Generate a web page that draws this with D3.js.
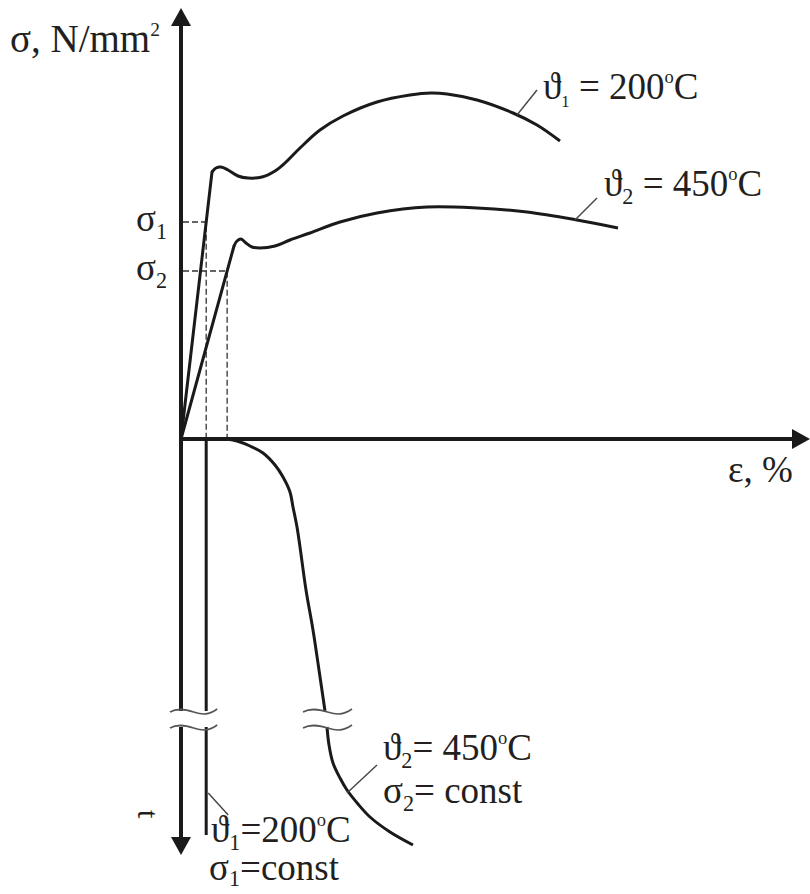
<!DOCTYPE html>
<html>
<head>
<meta charset="utf-8">
<script src="https://cdn.jsdelivr.net/npm/d3@7/dist/d3.min.js"></script>
<style>
  body { margin: 0; background: #fff; }
</style>
</head>
<body>
<svg id="chart" width="810" height="894"></svg>
<script>
// schematic tensile curves (strain in %, stress in N/mm2) + creep at constant stress

// tensile test at 200 C : first point pair is the elastic line
const eps200 = [0, 1.24, 1.40, 1.60, 1.88, 2.28, 2.68, 3.24, 3.76, 4.16, 4.76, 5.56, 6.48, 7.84, 9.16, 10.00, 10.64, 11.84, 13.28, 14.24, 15.16];
const sig200 = [0, 267, 271, 272, 269, 263, 261, 262, 268, 276, 291, 309, 323, 337, 344, 346, 345, 339, 326, 314, 298];

// tensile test at 450 C
const eps450 = [0, 2.12, 2.24, 2.40, 2.60, 2.84, 3.16, 3.76, 4.36, 5.16, 6.36, 7.84, 9.84, 11.84, 13.84, 15.84, 17.48];
const sig450 = [0, 193, 198, 200, 196, 192, 191, 193, 199, 206, 217, 226, 232, 231, 227, 219, 211];

// constant stress levels sigma1, sigma2
const sigLevels = [217, 168];

// creep at 450 C / sigma2 : strain vs time (time grows downwards)
const creepEps450 = [1.84, 2.24, 2.76, 3.28, 3.76, 4.08, 4.36, 4.48, 4.64, 4.76, 5.00, 5.28, 5.52, 5.76, 5.84, 5.92, 6.08, 6.36, 6.64, 7.08, 7.56, 8.36, 9.28];
const creepT450   = [0, 0.5, 1.75, 3.5, 6.5, 9.5, 13.25, 17, 22, 27, 37.75, 47.75, 57.75, 68, 72, 76.5, 81, 84.75, 87.75, 91.25, 94.5, 98.25, 101.5];

// creep at 200 C / sigma1 : no creep, strain stays constant
const creepT200 = [0, 99];

// broken time axis
const tBreak = [68, 72];

const temps = ["200", "450"];

const svg = d3.select("#chart");
const serif = "'Liberation Serif', 'Times New Roman', Times, 'DejaVu Serif', serif";

// scales
const x = d3.scaleLinear().domain([0, 25.2]).range([181, 811]);
const y = d3.scaleLinear().domain([0, 431]).range([439, 8]);
const t = d3.scaleLinear().domain([0, 104]).range([439, 855]);

// elastic strain at a given stress, along the first (elastic) segment
function elasticEps(eps, sig, s) {
  return eps[1] * s / sig[1];
}
const eps1 = elasticEps(eps200, sig200, sigLevels[0]);
const eps2 = elasticEps(eps450, sig450, sigLevels[1]);

const ink = "#1a1a1a";

/////////////////////////
// axes
/////////////////////////
const axes = svg.append("g").attr("stroke", ink).attr("stroke-width", 4);

// stress axis (up) + time axis (down), broken at tBreak
axes.append("line")
  .attr("x1", x(0)).attr("x2", x(0))
  .attr("y1", y(431) + 15).attr("y2", t(tBreak[0]));
axes.append("line")
  .attr("x1", x(0)).attr("x2", x(0))
  .attr("y1", t(tBreak[1])).attr("y2", t(104) - 15);
// strain axis
axes.append("line")
  .attr("x1", x(0) - 2).attr("x2", x(25.2) - 16)
  .attr("y1", y(0)).attr("y2", y(0));

// arrow heads
const heads = svg.append("g").attr("fill", ink);
heads.append("path").attr("d", `M${x(0)},${y(431)} l-10,18 l20,0 z`);
heads.append("path").attr("d", `M${x(0)},${t(104)} l-10,-18 l20,0 z`);
heads.append("path").attr("d", `M${x(25.2) - 1},${y(0)} l-18,-10 l0,20 z`);

/////////////////////////
// dashed guide lines
/////////////////////////
const guides = svg.append("g")
  .attr("fill", "none")
  .attr("stroke", "#333")
  .attr("stroke-width", 1.3)
  .attr("stroke-dasharray", "6,3");

[[eps1, sigLevels[0]], [eps2, sigLevels[1]]].forEach(function (d) {
  guides.append("path")
    .attr("d", `M${x(0) + 2},${y(d[1])} H${x(d[0])} V${y(0) - 2}`);
});

/////////////////////////
// tensile curves
/////////////////////////
const lineTensile = d3.line()
  .x((d) => x(d[0]))
  .y((d) => y(d[1]))
  .curve(d3.curveCatmullRom.alpha(0.5));

function tensile(eps, sig) {
  let pts = eps.map((e, i) => [e, sig[i]]);
  // elastic part straight, plastic part smooth
  svg.append("line")
    .attr("x1", x(pts[0][0])).attr("y1", y(pts[0][1]))
    .attr("x2", x(pts[1][0])).attr("y2", y(pts[1][1]))
    .attr("stroke", ink).attr("stroke-width", 3).attr("stroke-linecap", "round");
  svg.append("path")
    .datum(pts.slice(1))
    .attr("d", lineTensile)
    .attr("fill", "none")
    .attr("stroke", ink)
    .attr("stroke-width", 3)
    .attr("stroke-linejoin", "round");
}
tensile(eps200, sig200);
tensile(eps450, sig450);

/////////////////////////
// creep curves (broken)
/////////////////////////
const lineCreep = d3.line()
  .x((d) => x(d[0]))
  .y((d) => t(d[1]))
  .curve(d3.curveCatmullRom.alpha(0.5));

let creep450 = creepEps450.map((e, i) => [e, creepT450[i]]);
[creep450.filter((d) => d[1] <= tBreak[0]), creep450.filter((d) => d[1] >= tBreak[1])]
  .forEach(function (seg) {
    svg.append("path")
      .datum(seg)
      .attr("d", lineCreep)
      .attr("fill", "none")
      .attr("stroke", ink)
      .attr("stroke-width", 3);
  });

// 200 C: vertical line at eps1
[[creepT200[0], tBreak[0]], [tBreak[1], creepT200[1]]].forEach(function (seg) {
  svg.append("line")
    .attr("x1", x(eps1)).attr("x2", x(eps1))
    .attr("y1", t(seg[0])).attr("y2", t(seg[1]))
    .attr("stroke", ink).attr("stroke-width", 3);
});

// break marks
function breakMark(x0, x1, yc) {
  let w = x1 - x0;
  return `M${x0},${yc + 1} C${x0 + w * 0.15},${yc - 3} ${x0 + w * 0.3},${yc - 2} ${x0 + w * 0.5},${yc + 1}` +
    ` S${x0 + w * 0.82},${yc + 4} ${x1},${yc - 2}`;
}
const marks = svg.append("g").attr("fill", "none").attr("stroke", "#555").attr("stroke-width", 1.6);
tBreak.forEach(function (tb) {
  marks.append("path").attr("d", breakMark(x(0) - 11, x(eps1) + 11, t(tb)));
  marks.append("path").attr("d", breakMark(x(5.76) - 22, x(5.76) + 27, t(tb)));
});

/////////////////////////
// leader lines
/////////////////////////
const leaders = svg.append("g").attr("stroke", "#444").attr("stroke-width", 1.4);
function leader(px, py, dx, dy) {
  leaders.append("line").attr("x1", px).attr("y1", py).attr("x2", px + dx).attr("y2", py + dy);
}
leader(x(13.44), y(324), 20, -25);
leader(x(15.76), y(219), 22, -22);
leader(x(6.64), t(88.5), 30, -28);
leader(x(eps1) + 2, t(88.5), 20, 22);

/////////////////////////
// texts
/////////////////////////
const fs = 37;
function label(px, py, parts, size) {
  let s0 = size || fs;
  let txt = svg.append("text")
    .attr("x", px).attr("y", py)
    .attr("font-family", serif)
    .attr("font-size", s0)
    .attr("fill", "#231f20");
  parts.forEach(function (p) {
    let ts = txt.append("tspan").text(p.s);
    if (p.sub) ts.attr("font-size", s0 * (p.k || 0.6)).attr("dy", p.d || 8);
    if (p.sup) ts.attr("font-size", s0 * 0.5).attr("dy", -16);
    if (p.back) ts.attr("dy", p.back);
  });
  return txt;
}

label(10, 52, [{ s: "σ, N/mm" }, { s: "2", sup: true }], 39);
label(728, 482, [{ s: "ε, %" }]);

label(136, y(sigLevels[0]) + 9, [{ s: "σ" }, { s: "1", sub: true }]);
label(136, y(sigLevels[1]) + 9, [{ s: "σ" }, { s: "2", sub: true }]);

label(543, 99, [{ s: "ϑ" }, { s: "1", sub: true, k: 0.45 }, { s: " = " + temps[0], back: -8 }, { s: "o", sup: true }, { s: "C", back: 16 }]);
label(604, 196, [{ s: "ϑ" }, { s: "2", sub: true }, { s: " = " + temps[1], back: -8 }, { s: "o", sup: true }, { s: "C", back: 16 }]);

label(383, 760, [{ s: "ϑ" }, { s: "2", sub: true }, { s: "= " + temps[1], back: -8 }, { s: "o", sup: true }, { s: "C", back: 16 }]);
label(383, 803, [{ s: "σ" }, { s: "2", sub: true }, { s: "= const", back: -8 }]);

label(211, 842, [{ s: "ϑ" }, { s: "1", sub: true }, { s: "=" + temps[0], back: -8 }, { s: "o", sup: true }, { s: "C", back: 16 }]);
label(209, 880, [{ s: "σ" }, { s: "1", sub: true, d: 6 }, { s: "=const", back: -6 }]);

// time axis label, turned
svg.append("text")
  .attr("transform", "translate(138,810) rotate(90)")
  .attr("font-family", serif)
  .attr("font-size", 30)
  .attr("fill", "#231f20")
  .text("t");
</script>
</body>
</html>
